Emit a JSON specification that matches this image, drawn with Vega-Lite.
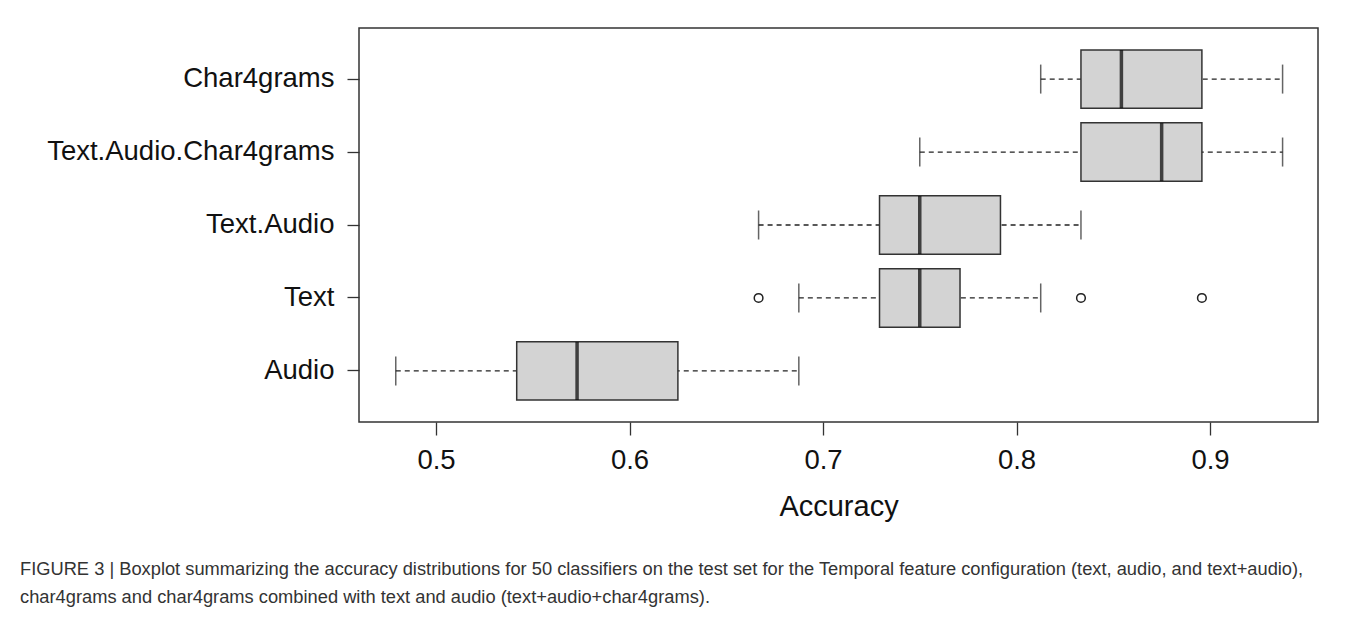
{
  "$schema": "https://vega.github.io/schema/vega-lite/v6.json",
  "width": 959,
  "height": 394,
  "autosize": {"type": "none"},
  "padding": {"left": 359, "top": 28, "right": 40, "bottom": 195},
  "background": "white",
  "config": {
    "font": "Liberation Sans",
    "view": {"stroke": "#333333", "strokeWidth": 1.5}
  },
  "datasets": {
    "stats": [
      {"cat": "Char4grams", "min": 0.8125, "q1": 0.8333, "median": 0.8542, "q3": 0.8958, "max": 0.9375},
      {"cat": "Text.Audio.Char4grams", "min": 0.75, "q1": 0.8333, "median": 0.875, "q3": 0.8958, "max": 0.9375},
      {"cat": "Text.Audio", "min": 0.6667, "q1": 0.7292, "median": 0.75, "q3": 0.7917, "max": 0.8333},
      {"cat": "Text", "min": 0.6875, "q1": 0.7292, "median": 0.75, "q3": 0.7708, "max": 0.8125},
      {"cat": "Audio", "min": 0.4792, "q1": 0.5417, "median": 0.5729, "q3": 0.625, "max": 0.6875}
    ],
    "outliers": [
      {"cat": "Text", "acc": 0.6667},
      {"cat": "Text", "acc": 0.8333},
      {"cat": "Text", "acc": 0.8958}
    ]
  },
  "title": {
    "text": ["FIGURE 3 | Boxplot summarizing the accuracy distributions for 50 classifiers on the test set for the Temporal feature configuration (text, audio, and text+audio),", "char4grams and char4grams combined with text and audio (text+audio+char4grams)."],
    "orient": "bottom",
    "anchor": "start",
    "frame": "group",
    "dx": -339,
    "offset": 39,
    "baseline": "top",
    "fontSize": 18.3,
    "fontWeight": "normal",
    "color": "#333333",
    "lineHeight": 28,
    "font": "Liberation Sans"
  },
  "encoding": {
    "y": {
      "field": "cat",
      "type": "nominal",
      "sort": ["Char4grams", "Text.Audio.Char4grams", "Text.Audio", "Text", "Audio"],
      "scale": {"paddingInner": 0.2, "paddingOuter": 0.3},
      "axis": {
        "title": null,
        "domain": false,
        "ticks": true,
        "tickSize": 12,
        "tickWidth": 1.3,
        "tickColor": "#333333",
        "labelPadding": 13,
        "labelFontSize": 27.5,
        "labelLimit": 0,
        "labelColor": "#111111",
        "labelFont": "Liberation Sans",
        "grid": false
      }
    }
  },
  "layer": [
    {
      "data": {"name": "stats"},
      "mark": {"type": "rule", "strokeDash": [5, 4], "strokeWidth": 1.3, "color": "#222222"},
      "encoding": {
        "x": {
          "field": "min",
          "type": "quantitative",
          "scale": {"domain": [0.4602, 0.9558], "nice": false, "zero": false},
          "axis": {
            "title": "Accuracy",
            "values": [0.5, 0.6, 0.7, 0.8, 0.9],
            "format": ".1f",
            "domain": false,
            "grid": false,
            "tickSize": 13,
            "tickWidth": 1.3,
            "tickColor": "#333333",
            "labelPadding": 11,
            "labelFontSize": 27.5,
            "labelColor": "#111111",
            "labelFont": "Liberation Sans",
            "titleFontSize": 29,
            "titleFontWeight": "normal",
            "titleColor": "#111111",
            "titleFont": "Liberation Sans",
            "titlePadding": 19
          }
        },
        "x2": {"field": "max"}
      }
    },
    {
      "data": {"name": "stats"},
      "mark": {"type": "tick", "orient": "vertical", "size": 29, "thickness": 1.5, "color": "#222222"},
      "encoding": {"x": {"field": "min", "type": "quantitative"}}
    },
    {
      "data": {"name": "stats"},
      "mark": {"type": "tick", "orient": "vertical", "size": 29, "thickness": 1.5, "color": "#222222"},
      "encoding": {"x": {"field": "max", "type": "quantitative"}}
    },
    {
      "data": {"name": "stats"},
      "mark": {"type": "bar", "fill": "#d3d3d3", "stroke": "#333333", "strokeWidth": 1.5},
      "encoding": {
        "x": {"field": "q1", "type": "quantitative"},
        "x2": {"field": "q3"}
      }
    },
    {
      "data": {"name": "stats"},
      "mark": {"type": "tick", "orient": "vertical", "size": 58, "thickness": 3.5, "color": "#000000"},
      "encoding": {"x": {"field": "median", "type": "quantitative"}}
    },
    {
      "data": {"name": "outliers"},
      "mark": {"type": "point", "shape": "circle", "filled": false, "size": 75, "strokeWidth": 1.5, "color": "#222222", "opacity": 1},
      "encoding": {"x": {"field": "acc", "type": "quantitative"}}
    }
  ]
}
